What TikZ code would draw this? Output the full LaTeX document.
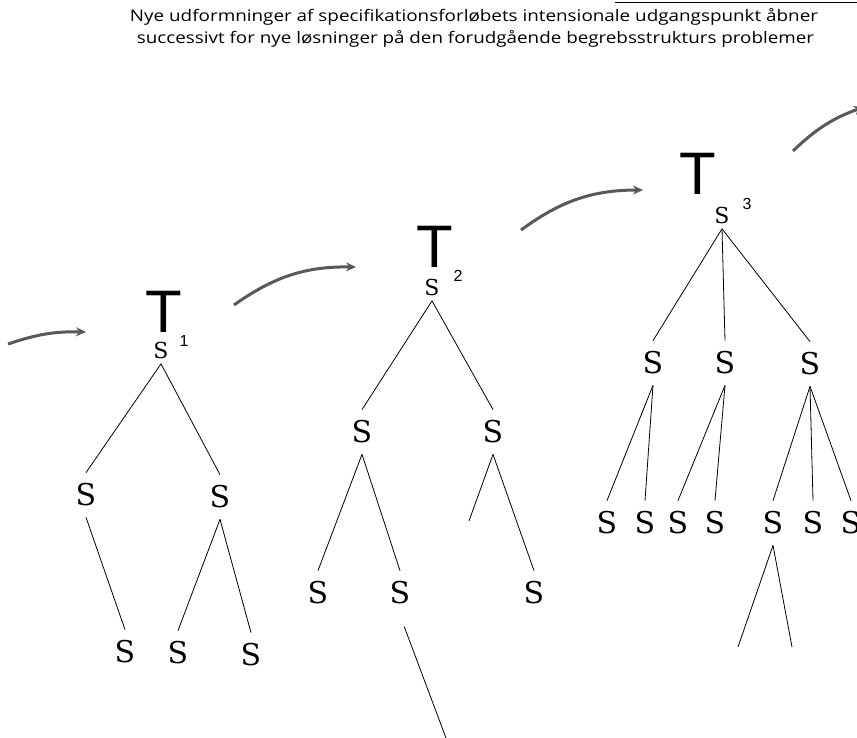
\documentclass[tikz,border=0pt]{standalone}
\usepackage{fontspec}
\usepackage{graphicx}
\usetikzlibrary{arrows.meta}
\newfontfamily\titlefont{Open Sans}
\newfontfamily\tfont{Liberation Sans}
\newfontfamily\Sfont{DejaVu Serif}
\begin{document}
\begin{tikzpicture}[x=1pt,y=-1pt,
  bigS/.style={inner sep=0pt, outer xsep=0pt, outer ysep=11pt, font=\Sfont\fontsize{30}{30}\selectfont},
  rootS/.style={inner sep=0pt, outer xsep=0pt, outer ysep=5.5pt, font=\Sfont\fontsize{22}{22}\selectfont},
  bigT/.style={inner sep=0pt, anchor=base, font=\tfont\fontsize{60}{60}\selectfont},
  supnum/.style={inner sep=0pt, font=\tfont\fontsize{16}{16}\selectfont},
  treeline/.style={line width=0.8pt},
  brush/.style={line width=3pt, draw=black!65, -{Stealth[length=10pt,width=9pt]}},
  ttl/.style={inner sep=0pt, anchor=base}]
\clip (0,0) rectangle (857,738);
\fill[white] (0,0) rectangle (857,738);

% title
\node[ttl] (title1) at (474,22) {\resizebox{688pt}{13pt}{\titlefont Nye udformninger af specifikationsforløbets intensionale udgangspunkt åbner}};
\node[ttl] (title2) at (475.5,44) {\resizebox{677pt}{13pt}{\titlefont successivt for nye løsninger på den forudgående begrebsstrukturs problemer}};
\coordinate (rl) at (615,2.5);
\coordinate (rr) at (857,2.5);
\draw[line width=1.8pt] (rl) -- (rr);

% arrows
\coordinate (a0s) at (8,344);   \coordinate (a0e) at (86,332);
\coordinate (a1s) at (234,305); \coordinate (a1e) at (356,267);
\coordinate (a2s) at (521,230); \coordinate (a2e) at (643,190);
\coordinate (a3s) at (793,151); \coordinate (a3e) at (864,107);
\draw[brush] (a0s) to[bend left=10] (a0e);
\draw[brush] (a1s) to[bend left=18] (a1e);
\draw[brush] (a2s) to[bend left=18] (a2e);
\draw[brush] (a3s) to[bend left=12] (a3e);

% ---------- tree 1
\node[bigT] (T1) at (163.5,332) {T};
\node[rootS] (r1) at (161,350) {S};
\node[supnum] (n1) at (184,341) {1};
\node[bigS] (b1) at (86,495) {S};
\node[bigS] (b2) at (220,497) {S};
\node[bigS] (c1) at (125,652) {S};
\node[bigS] (c2) at (178,653) {S};
\node[bigS] (c3) at (251,655) {S};
\draw[treeline] (r1.south) -- (b1.north);
\draw[treeline] (r1.south) -- (b2.north);
\draw[treeline] (b1.south) -- (c1.north);
\draw[treeline] (b2.south) -- (c2.north);
\draw[treeline] (b2.south) -- (c3.north);

% ---------- tree 2
\node[bigT] (T2) at (435,268) {T};
\node[rootS] (r2) at (432,287) {S};
\node[supnum] (n2) at (458,276) {2};
\node[bigS] (d1) at (362,432) {S};
\node[bigS] (d2) at (493,432) {S};
\node[bigS] (e1) at (318,593) {S};
\node[bigS] (e2) at (400,593) {S};
\node[bigS] (e3) at (534,593) {S};
\coordinate (stub2) at (469,521);
\coordinate (down2) at (446,738);
\draw[treeline] (r2.south) -- (d1.north);
\draw[treeline] (r2.south) -- (d2.north);
\draw[treeline] (d1.south) -- (e1.north);
\draw[treeline] (d1.south) -- (e2.north);
\draw[treeline] (d2.south) -- (stub2);
\draw[treeline] (d2.south) -- (e3.north);
\draw[treeline, shorten <=12pt] (e2.south) -- (down2);

% ---------- tree 3
\node[bigT] (T3) at (697.5,195) {T};
\node[rootS] (r3) at (722,215) {S};
\node[supnum] (n3) at (747,204) {3};
\node[bigS] (f1) at (653,363) {S};
\node[bigS] (f2) at (725,363) {S};
\node[bigS] (f3) at (810,364) {S};
\node[bigS] (g1) at (607,523) {S};
\node[bigS] (g2) at (645,523) {S};
\node[bigS] (g3) at (678,523) {S};
\node[bigS] (g4) at (715,523) {S};
\node[bigS] (g5) at (773,523) {S};
\node[bigS] (g6) at (813,523) {S};
\node[bigS] (g7) at (851,523) {S};
\coordinate (h1) at (738,647);
\coordinate (h2) at (792,647);
\draw[treeline] (r3.south) -- (f1.north);
\draw[treeline] (r3.south) -- (f2.north);
\draw[treeline] (r3.south) -- (f3.north);
\draw[treeline] (f1.south) -- (g1.north);
\draw[treeline] (f1.south) -- (g2.north);
\draw[treeline] (f2.south) -- (g3.north);
\draw[treeline] (f2.south) -- (g4.north);
\draw[treeline] (f3.south) -- (g5.north);
\draw[treeline] (f3.south) -- (g6.north);
\draw[treeline] (f3.south) -- (g7.north);
\draw[treeline] (g5.south) -- (h1);
\draw[treeline] (g5.south) -- (h2);
\end{tikzpicture}
\end{document}
